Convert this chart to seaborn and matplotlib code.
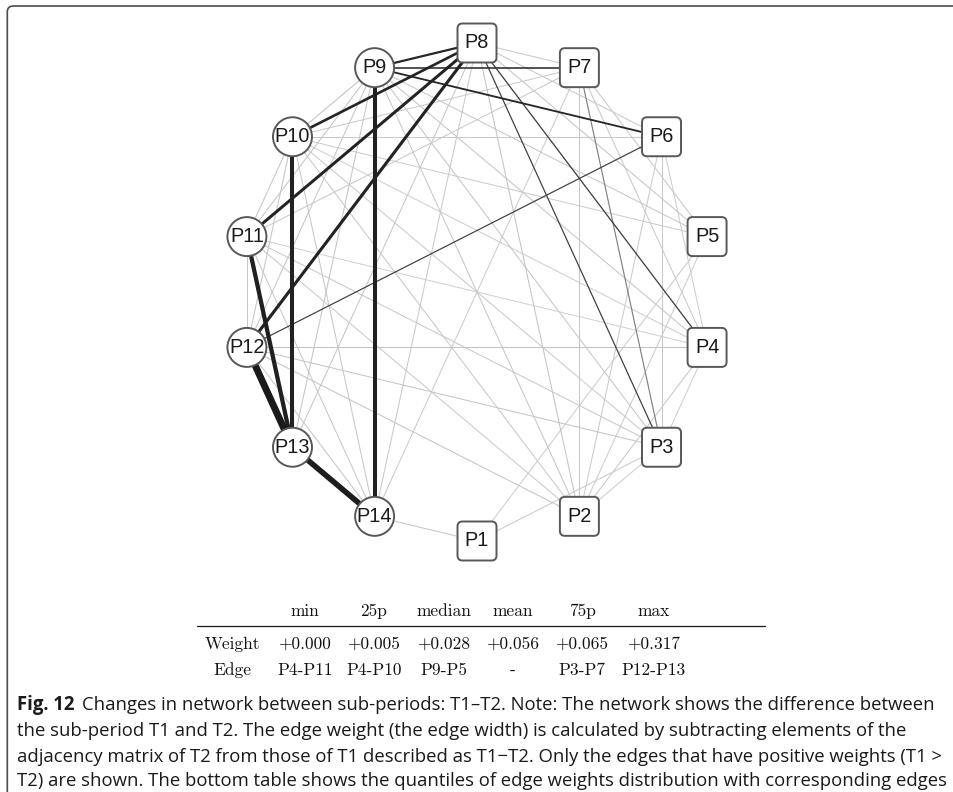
import numpy as np
import pandas as pd
import matplotlib
matplotlib.use("Agg")
import matplotlib.pyplot as plt
import matplotlib.colors as mcolors
import seaborn as sns
from matplotlib.patches import FancyBboxPatch, Circle
from matplotlib.colors import LinearSegmentedColormap

# ---------------- data ----------------
node_names = ["P1", "P2", "P3", "P4", "P5", "P6", "P7",
              "P8", "P9", "P10", "P11", "P12", "P13", "P14"]
square_nodes = ["P1", "P2", "P3", "P4", "P5", "P6", "P7", "P8"]

edge_source = ["P12", "P13", "P11", "P10", "P9", "P8", "P8", "P8", "P8", "P6", "P7",
               "P4", "P3", "P6", "P3",
               "P1", "P1", "P1",
               "P2", "P2", "P2", "P2", "P2", "P2", "P2", "P2", "P2", "P2",
               "P3", "P3", "P3", "P3", "P3", "P3",
               "P4", "P4", "P4", "P4", "P4", "P4",
               "P5", "P5", "P5", "P5",
               "P6", "P7", "P7", "P7",
               "P8", "P8",
               "P9", "P9", "P9", "P9",
               "P10", "P10", "P10",
               "P11", "P11", "P12", "P7", "P6"]
edge_target = ["P13", "P14", "P13", "P13", "P14", "P12", "P11", "P10", "P9", "P9", "P9",
               "P8", "P8", "P12", "P7",
               "P14", "P3", "P5",
               "P12", "P11", "P10", "P9", "P8", "P7", "P6", "P5", "P4", "P3",
               "P12", "P11", "P10", "P9", "P6", "P4",
               "P12", "P11", "P10", "P9", "P7", "P6",
               "P9", "P8", "P7", "P10",
               "P8", "P8", "P11", "P10",
               "P13", "P14",
               "P10", "P11", "P12", "P13",
               "P11", "P12", "P14",
               "P12", "P14", "P14", "P14", "P10"]
edge_weight = [0.317, 0.258, 0.200, 0.190, 0.190, 0.150, 0.145, 0.130, 0.110, 0.095, 0.085,
               0.070, 0.068, 0.067, 0.065,
               0.030, 0.020, 0.015,
               0.035, 0.022, 0.026, 0.032, 0.040, 0.030, 0.020, 0.018, 0.024, 0.012,
               0.034, 0.026, 0.020, 0.030, 0.028, 0.010,
               0.038, 0.000, 0.005, 0.032, 0.022, 0.012,
               0.028, 0.030, 0.024, 0.016,
               0.024, 0.026, 0.022, 0.020,
               0.030, 0.025,
               0.040, 0.034, 0.030, 0.036,
               0.030, 0.036, 0.030,
               0.032, 0.026, 0.030, 0.018, 0.020]

table_columns = ["min", "25p", "median", "mean", "75p", "max"]
table_row_labels = ["Weight", "Edge"]
table_weights = ["+0.000", "+0.005", "+0.028", "+0.056", "+0.065", "+0.317"]
table_edges = ["P4-P11", "P4-P10", "P9-P5", "-", "P3-P7", "P12-P13"]

caption_bold = "Fig. 12"
caption_lines = [
    "Changes in network between sub-periods: T1\u2013T2. Note: The network shows the difference between",
    "the sub-period T1 and T2. The edge weight (the edge width) is calculated by subtracting elements of the",
    "adjacency matrix of T2 from those of T1 described as T1\u2212T2. Only the edges that have positive weights (T1 >",
    "T2) are shown. The bottom table shows the quantiles of edge weights distribution with corresponding edges",
]

# ---------------- layout ----------------
W, H = 954, 792
fig = plt.figure(figsize=(W / 100, H / 100), dpi=100)
ax = fig.add_axes([0, 0, 1, 1])
sns.set_style("white")

cx, cy, rx, ry = 477, 292, 236, 249
pos = {}
for i, n in enumerate(node_names):
    ang = np.deg2rad(-90 + i * 360 / len(node_names))
    pos[n] = (cx + rx * np.cos(ang), cy - ry * np.sin(ang))

rows = []
for k, (s, t, w) in enumerate(zip(edge_source, edge_target, edge_weight)):
    rows.append({"edge": k, "x": pos[s][0], "y": pos[s][1], "weight": w})
    rows.append({"edge": k, "x": pos[t][0], "y": pos[t][1], "weight": w})
edges_df = pd.DataFrame(rows)

wmax = max(edge_weight)
cmap = LinearSegmentedColormap.from_list(
    "edgegray",
    [(0.0, "#d2d2d2"), (0.18, "#bdbdbd"), (0.203, "#8a8a8a"), (0.209, "#404040"),
     (0.30, "#262626"), (1.0, "#1a1a1a")])

sns.lineplot(data=edges_df, x="x", y="y", units="edge", estimator=None, sort=False,
             hue="weight", size="weight", palette=cmap,
             hue_norm=mcolors.Normalize(0, wmax, clip=True),
             sizes=(0.75, 5.0), size_norm=mcolors.Normalize(0.06, wmax, clip=True),
             legend=False, ax=ax)

# nodes
for n in node_names:
    x, y = pos[n]
    if n in square_nodes:
        patch = FancyBboxPatch((x - 19.5, y - 19.5), 39, 39,
                               boxstyle="round,pad=0,rounding_size=5",
                               fc="white", ec="#585858", lw=1.4, zorder=5)
    else:
        patch = Circle((x, y), 19.5, fc="white", ec="#585858", lw=1.4, zorder=5)
    ax.add_patch(patch)
    ax.text(x, y, n, ha="center", va="center", fontsize=14.3,
            family="Liberation Sans", color="#1a1a1a", zorder=6)

# frame (top/left with rounded corner)
ax.add_patch(FancyBboxPatch((7.3, 6), 3000, 3000, boxstyle="round,pad=0,rounding_size=6",
                            fc="none", ec="#4d4d4d", lw=1.2, zorder=1))

# table
col_x = [305, 374, 444, 513, 582, 654]
label_x = 232
tfont = dict(family="cmr10", fontsize=12.5, color="#111111")
for cx_, c in zip(col_x, table_columns):
    ax.text(cx_, 611, c, ha="center", va="center", **tfont)
ax.plot([197, 765], [626, 626], color="#1a1a1a", lw=0.9)
ax.text(label_x, 644, table_row_labels[0], ha="center", va="center", **tfont)
ax.text(label_x, 670, table_row_labels[1], ha="center", va="center", **tfont)
for cx_, wv, ev in zip(col_x, table_weights, table_edges):
    ax.text(cx_, 644, wv, ha="center", va="center", **tfont)
    ax.text(cx_, 670, ev, ha="center", va="center", **tfont)

ax.set_xlim(0, W)
ax.set_ylim(H, 0)
ax.axis("off")

# caption, fitted to the width of the reference
fig.canvas.draw()
renderer = fig.canvas.get_renderer()
cfam = ["Open Sans", "DejaVu Sans"]
probe = ax.text(0, 0, caption_lines[3], fontsize=12, family=cfam)
wpx = probe.get_window_extent(renderer).width
probe.remove()
csize = 12 * (944 - 17) / wpx

line_y = [705, 731, 757, 781]
btxt = ax.text(17, line_y[0], caption_bold, fontsize=csize, family=cfam,
               weight="bold", va="center", ha="left", color="#1a1a1a")
bw = btxt.get_window_extent(renderer).width
ax.text(17 + bw + 8, line_y[0], caption_lines[0], fontsize=csize, family=cfam,
        va="center", ha="left", color="#1a1a1a")
for yy, line in zip(line_y[1:], caption_lines[1:]):
    ax.text(17, yy, line, fontsize=csize, family=cfam, va="center", ha="left",
            color="#1a1a1a")

fig.savefig("out.png", dpi=100)
